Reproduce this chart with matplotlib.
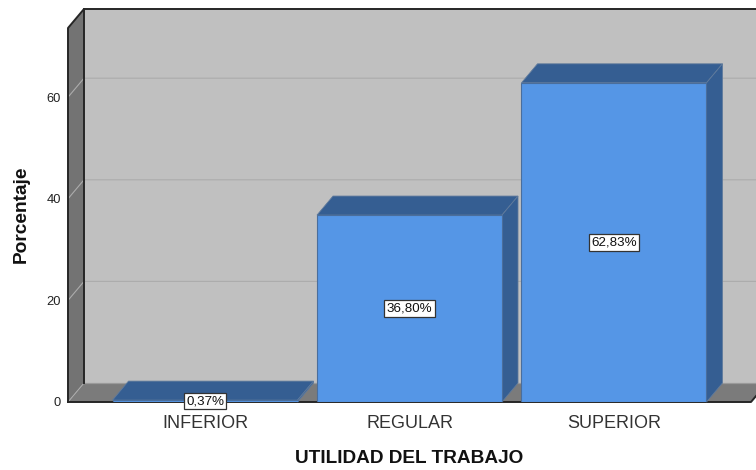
import matplotlib
matplotlib.use("Agg")
import matplotlib.pyplot as plt
from matplotlib.patches import Polygon

categories = ["INFERIOR", "REGULAR", "SUPERIOR"]
values = [0.37, 36.80, 62.83]
value_labels = ["0,37%", "36,80%", "62,83%"]
y_ticks = [0, 20, 40, 60]
x_title = "UTILIDAD DEL TRABAJO"
y_title = "Porcentaje"

W, H = 756, 470
plt.rcParams["font.family"] = ["Liberation Sans", "DejaVu Sans"]
fig = plt.figure(figsize=(W / 100, H / 100), dpi=100, facecolor="white")
L, R, B, T = 68, 751, 402, 28
ax = fig.add_axes([L / W, 1 - B / H, (R - L) / W, (B - T) / H])
xmin, xmax = -0.67, 2.67
ymin, ymax = 0, (B - T) / 5.08
ax.set_xlim(xmin, xmax)
ax.set_ylim(ymin, ymax)
ax.patch.set_visible(False)
for s in ax.spines.values():
    s.set_visible(False)

dx = 16 * (xmax - xmin) / (R - L)
dy = 19 * (ymax - ymin) / (B - T)
WALL, SIDE, FLOOR, GRID = "#C0C0C0", "#737373", "#7B7B7B", "#ACACAC"
FRONT, DARK = "#5596E6", "#355E92"
EDGE = "#262626"


def poly(pts, fc, z, ec="none", lw=0.0):
    ax.add_patch(Polygon(pts, closed=True, fc=fc, ec=ec, lw=lw, zorder=z, clip_on=False))


# back wall, left wall, floor
poly([(xmin + dx, dy), (xmax + dx, dy), (xmax + dx, ymax + dy), (xmin + dx, ymax + dy)], WALL, 1)
poly([(xmin, 0), (xmin + dx, dy), (xmin + dx, ymax + dy), (xmin, ymax)], SIDE, 1)
poly([(xmin, 0), (xmax, 0), (xmax + dx, dy), (xmin + dx, dy)], FLOOR, 1)

# grid on walls
for t in y_ticks[1:]:
    ax.plot([xmin, xmin + dx, xmax + dx], [t, t + dy, t + dy], color=GRID, lw=0.8, zorder=2, clip_on=False)
ax.plot([xmin, xmin + dx], [0, dy], color=GRID, lw=0.7, zorder=2, clip_on=False)
ax.plot([xmin + dx, xmax + dx], [dy, dy], color="#9A9A9A", lw=0.9, zorder=2, clip_on=False)

# frame
ax.plot([xmin, xmin, xmin + dx, xmax + dx], [0, ymax, ymax + dy, ymax + dy], color=EDGE, lw=1.4, zorder=3, clip_on=False)
ax.plot([xmin + dx, xmin + dx], [dy, ymax + dy], color=EDGE, lw=1.4, zorder=3, clip_on=False)
ax.plot([xmin, xmax, xmax + dx], [0, 0, dy], color=EDGE, lw=1.4, zorder=3, clip_on=False)

# bars
bw = 185 * (xmax - xmin) / (R - L)
xs = list(range(len(categories)))
ax.bar(xs, values, width=bw, color=FRONT, edgecolor="#4A6E9C", linewidth=0.8, zorder=6)
for x, v, lab in zip(xs, values, value_labels):
    l, r = x - bw / 2, x + bw / 2
    poly([(l, v), (r, v), (r + dx, v + dy), (l + dx, v + dy)], DARK, 5, ec="#5F7A9C", lw=0.6)
    poly([(r, 0), (r + dx, dy), (r + dx, v + dy), (r, v)], DARK, 5, ec="#5F7A9C", lw=0.6)
    ax.text(x, v / 2, lab, ha="center", va="center", fontsize=9.6, color="#111111", zorder=8,
            bbox=dict(boxstyle="square,pad=0.18", fc="white", ec="#333333", lw=0.9))

ax.set_xticks(xs, categories)
ax.set_yticks(y_ticks)
ax.tick_params(axis="x", length=0, pad=9, labelsize=13, labelcolor="#333333")
ax.tick_params(axis="y", length=0, pad=5, labelsize=9.3, labelcolor="#222222")
for lbl in ax.get_xticklabels():
    lbl.set_zorder(7)

fig.text(409.5 / W, 1 - 458.5 / H, x_title, ha="center", va="center", fontsize=13.7, fontweight="bold", color="#111111")
fig.text(21 / W, 1 - 214.5 / H, y_title, ha="center", va="center", rotation=90, fontsize=13.8, fontweight="bold", color="#111111")

fig.savefig("out.png", dpi=100, facecolor="white")
